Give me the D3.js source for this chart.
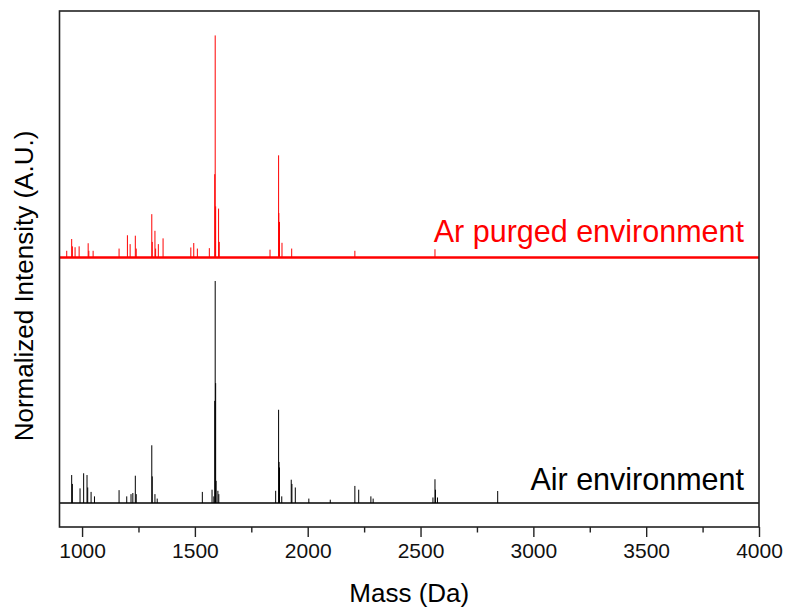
<!DOCTYPE html>
<html><head><meta charset="utf-8">
<script src="https://cdn.jsdelivr.net/npm/d3@7/dist/d3.min.js"></script>
<style>
html,body{margin:0;padding:0;background:#fff;}
text{font-family:"Liberation Sans",Arial,sans-serif;}
</style></head>
<body><svg id="c" width="786" height="611"></svg>
<script>
// ---- data ----
const xTicks = [1000, 1500, 2000, 2500, 3000, 3500, 4000];
const xMinorTicks = [1250, 1750, 2250, 2750, 3250, 3750];
const seriesNames = ["Air environment", "Ar purged environment"];
const seriesOffsets = [0, 1.106];

// Air environment peaks: mass (Da)
const airMass = [954, 957, 991, 1007, 1022, 1025, 1040, 1055, 1164, 1198, 1217, 1225, 1236, 1240,
  1309, 1311, 1323, 1333, 1533, 1576, 1584, 1588, 1590, 1592, 1594, 1602, 1606,
  1858, 1871, 1873, 1875, 1885, 1927, 1930, 1945, 2005, 2100, 2209, 2226, 2280, 2290,
  2555, 2564, 2566, 2575, 2842];
// Air environment peaks: normalized intensity
const airIntensity = [0.126, 0.086, 0.066, 0.134, 0.126, 0.07, 0.05, 0.03, 0.058, 0.03, 0.04, 0.045, 0.123, 0.04,
  0.26, 0.12, 0.04, 0.02, 0.05, 0.06, 0.03, 0.46, 1.0, 0.54, 0.1, 0.055, 0.04,
  0.055, 0.42, 0.185, 0.16, 0.03, 0.105, 0.086, 0.07, 0.02, 0.015, 0.077, 0.06, 0.03, 0.02,
  0.025, 0.107, 0.06, 0.025, 0.054];

// Ar purged environment peaks: mass (Da)
const arMass = [932, 954, 957, 969, 987, 1027, 1030, 1049, 1164, 1201, 1213, 1236, 1240,
  1309, 1311, 1323, 1326, 1338, 1359, 1482, 1495, 1511, 1564, 1588, 1590, 1592, 1605, 1608,
  1833, 1871, 1872, 1875, 1886, 1929, 2209, 2564];
// Ar purged environment peaks: normalized intensity
const arIntensity = [0.03, 0.083, 0.05, 0.046, 0.05, 0.064, 0.03, 0.03, 0.04, 0.1, 0.06, 0.098, 0.04,
  0.195, 0.07, 0.12, 0.04, 0.06, 0.086, 0.045, 0.065, 0.04, 0.042, 0.375, 1.0, 0.23, 0.22, 0.07,
  0.035, 0.46, 0.2, 0.16, 0.066, 0.04, 0.03, 0.037];

const seriesColors = ["#000000", "#ff0000"];

// ---- chart ----
const svg = d3.select("#c");
const mLeft = 59.5, mRight = 759, mTop = 11, mBottom = 527;
const x = d3.scaleLinear().domain([900, 4000]).range([mLeft, mRight]);
const y = d3.scaleLinear().domain([-0.108, 2.216]).range([mBottom, mTop]);

const series = [
  {name: seriesNames[0], mass: airMass, inten: airIntensity, off: seriesOffsets[0], color: seriesColors[0], base: 1.4},
  {name: seriesNames[1], mass: arMass, inten: arIntensity, off: seriesOffsets[1], color: seriesColors[1], base: 2.6}
];

series.forEach(s => {
  const g = svg.append("g");
  g.append("line")
    .attr("x1", x(900)).attr("x2", x(4000))
    .attr("y1", y(s.off)).attr("y2", y(s.off))
    .attr("stroke", s.color).attr("stroke-width", s.base);
  g.selectAll("line.pk").data(s.mass.map((m, i) => [m, s.inten[i]])).enter()
    .append("line").attr("class", "pk")
    .attr("x1", d => x(d[0])).attr("x2", d => x(d[0]))
    .attr("y1", y(s.off)).attr("y2", d => y(s.off + d[1]))
    .attr("stroke", s.color).attr("stroke-width", 1);
});

// labels
svg.append("text").attr("x", 744).attr("y", 490).attr("text-anchor", "end")
  .attr("font-size", 30.5).attr("fill", "#000").text(seriesNames[0]);
svg.append("text").attr("x", 744).attr("y", 241.5).attr("text-anchor", "end")
  .attr("font-size", 30.5).attr("fill", "#ff0000").text(seriesNames[1]);

// frame
svg.append("rect").attr("x", mLeft).attr("y", mTop).attr("width", mRight - mLeft).attr("height", mBottom - mTop)
  .attr("fill", "none").attr("stroke", "#222").attr("stroke-width", 1.6);

// x axis
const xAxis = d3.axisBottom(x).tickValues(xTicks).tickSize(10).tickSizeOuter(0).tickPadding(6).tickFormat(d3.format("d"));
const ax = svg.append("g").attr("transform", `translate(0,${mBottom})`).call(xAxis);
ax.select(".domain").remove();
ax.selectAll(".tick line").attr("stroke", "#222").attr("stroke-width", 1.4);
ax.selectAll(".tick text").attr("font-size", 21).attr("fill", "#111")
  .attr("font-family", "'Liberation Sans', Arial, sans-serif");
const axm = svg.append("g").attr("transform", `translate(0,${mBottom})`)
  .call(d3.axisBottom(x).tickValues(xMinorTicks).tickSize(5.5).tickSizeOuter(0).tickFormat(""));
axm.select(".domain").remove();
axm.selectAll(".tick line").attr("stroke", "#222").attr("stroke-width", 1.4);

// axis titles
svg.append("text").attr("x", (mLeft + mRight) / 2).attr("y", 602).attr("text-anchor", "middle")
  .attr("font-size", 26).attr("fill", "#000").text("Mass (Da)");
svg.append("text").attr("transform", "translate(33,286) rotate(-90)").attr("text-anchor", "middle")
  .attr("font-size", 26).attr("fill", "#000").text("Normalized Intensity (A.U.)");
</script></body></html>
